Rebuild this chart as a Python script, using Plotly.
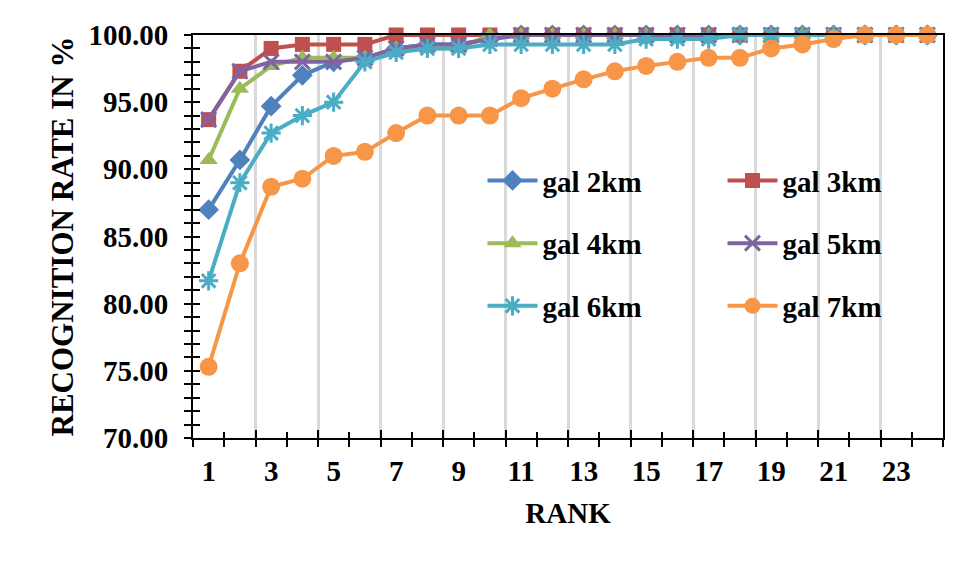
import plotly.graph_objects as go

ranks = list(range(1, 25))
label_ranks = list(range(1, 24, 2))
tick_labels = [str(r) for r in label_ranks]

gal_2km = [87.0, 90.7, 94.7, 97.0, 98.0, 98.3, 99.0, 99.3, 99.3, 99.7] + [100.0] * 14
gal_3km = [93.7, 97.3, 99.0, 99.3, 99.3, 99.3] + [100.0] * 18
gal_4km = [90.7, 96.0, 97.7, 98.3, 98.3, 98.3, 99.0, 99.0, 99.0] + [100.0] * 15
gal_5km = [93.7, 97.3, 98.0, 98.0, 98.0, 98.3, 99.0, 99.3, 99.3, 99.7] + [100.0] * 14
gal_6km = [81.7, 89.0, 92.7, 94.0, 95.0, 98.0, 98.7, 99.0, 99.0, 99.3, 99.3, 99.3,
           99.3, 99.3, 99.7, 99.7, 99.7, 100.0, 100.0, 100.0, 100.0, 100.0, 100.0, 100.0]
gal_7km = [75.3, 83.0, 88.7, 89.3, 91.0, 91.3, 92.7, 94.0, 94.0, 94.0, 95.3, 96.0,
           96.7, 97.3, 97.7, 98.0, 98.3, 98.3, 99.0, 99.3, 99.7, 100.0, 100.0, 100.0]

series = [
    ("gal 2km", gal_2km, "#4F81BD", "diamond", 16, "legend"),
    ("gal 3km", gal_3km, "#C0504D", "square", 15, "legend2"),
    ("gal 4km", gal_4km, "#9BBB59", "triangle-up", 16, "legend"),
    ("gal 5km", gal_5km, "#8064A2", "x-thin-open", 15, "legend2"),
    ("gal 6km", gal_6km, "#4BACC6", "asterisk-open", 16, "legend"),
    ("gal 7km", gal_7km, "#F79646", "circle", 18, "legend2"),
]

fig = go.Figure()
for name, vals, color, sym, size, leg in series:
    open_sym = sym.endswith("-open")
    fig.add_trace(go.Scatter(
        x=ranks, y=vals, name=name, mode="lines+markers",
        line=dict(color=color, width=4),
        marker=dict(symbol=sym, size=size, color=color,
                    line=dict(color=color, width=3 if open_sym else 0)),
        cliponaxis=False, legend=leg, legendgroup=name,
    ))

# invisible trace for overlay axes (inside tick marks / gridlines)
fig.add_trace(go.Scatter(x=[ranks[0]], y=[gal_7km[0]], xaxis="x2", yaxis="y2",
                         mode="markers", marker=dict(opacity=0), showlegend=False,
                         hoverinfo="skip"))

bounds = [r + 0.5 for r in range(0, 25)]
even_bounds = bounds[0::2]
odd_bounds = bounds[1::2]

base_font = dict(family="Liberation Serif", size=29, color="black", weight="bold")

fig.update_layout(
    width=959, height=555,
    margin=dict(l=185, r=24, t=27, b=125),
    paper_bgcolor="white", plot_bgcolor="white",
    font=base_font,
    showlegend=True,
    xaxis=dict(range=[0.5, 24.5], tickmode="array", tickvals=label_ranks, ticktext=tick_labels,
               ticks="", showgrid=False, zeroline=False, showline=True, linecolor="black",
               linewidth=2, mirror=True, ticklabelstandoff=6,
               minor=dict(tickmode="array", tickvals=bounds, ticks="outside", ticklen=7,
                          tickwidth=2, tickcolor="black", showgrid=False),
               title=dict(text="RANK", standoff=17, font=base_font)),
    yaxis=dict(range=[70, 100], tickmode="array", tickvals=list(range(70, 101, 5)),
               tickformat=".2f", ticks="outside", ticklen=7, tickwidth=2, tickcolor="black",
               showgrid=False, zeroline=False, showline=True, linecolor="black", linewidth=2,
               mirror=True, ticklabelstandoff=10,
               minor=dict(dtick=1, tick0=70, ticks="outside", ticklen=7, tickwidth=2,
                          tickcolor="black", showgrid=False),
               title=dict(text="RECOGNITION RATE IN %", standoff=6,
                          font=dict(family="Liberation Serif", size=31, color="black", weight="bold"))),
    xaxis2=dict(overlaying="x", anchor="y2", side="bottom", range=[0.5, 24.5],
                tickmode="array", tickvals=even_bounds, ticks="inside", ticklen=8, tickwidth=2,
                tickcolor="black", showticklabels=False, showgrid=True, gridcolor="#d9d9d9",
                gridwidth=3, zeroline=False, showline=False,
                minor=dict(tickmode="array", tickvals=odd_bounds, ticks="inside", ticklen=6,
                           tickwidth=2, tickcolor="black", showgrid=False)),
    yaxis2=dict(overlaying="y", anchor="x2", side="left", range=[70, 100],
                tickmode="array", tickvals=list(range(70, 101, 5)), ticks="inside", ticklen=7,
                tickwidth=2, tickcolor="black", showticklabels=False, showgrid=False,
                zeroline=False, showline=False,
                minor=dict(dtick=1, tick0=70, ticks="inside", ticklen=7, tickwidth=2,
                           tickcolor="black", showgrid=False)),
    legend=dict(x=0.386, y=0.702, xanchor="left", yanchor="top", bgcolor="rgba(0,0,0,0)",
                font=base_font, tracegroupgap=22, traceorder="grouped", itemwidth=50),
    legend2=dict(x=0.706, y=0.702, xanchor="left", yanchor="top", bgcolor="rgba(0,0,0,0)",
                 font=base_font, tracegroupgap=22, traceorder="grouped", itemwidth=50),
)

fig.write_html("out.html")
